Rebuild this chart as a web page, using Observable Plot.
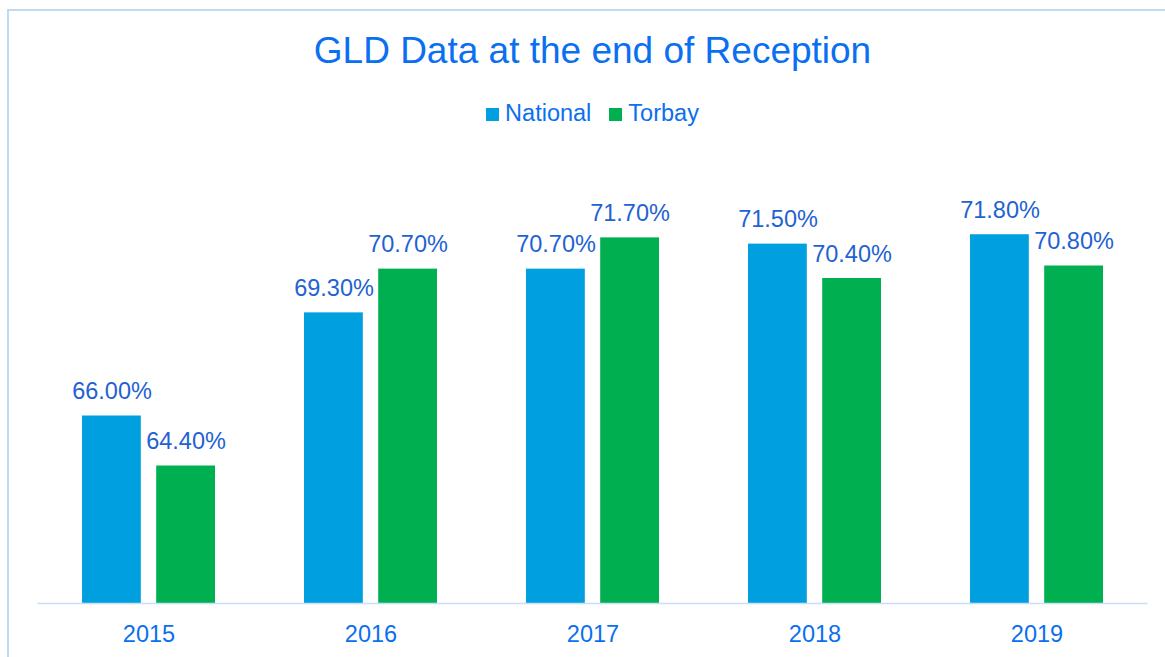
<!DOCTYPE html>
<html>
<head>
<meta charset="utf-8">
<script src="https://cdn.jsdelivr.net/npm/d3@7"></script>
<script src="https://cdn.jsdelivr.net/npm/@observablehq/plot@0.6"></script>
<style>
  html, body { margin: 0; padding: 0; background: #fff; overflow: hidden; }
  body { width: 1165px; height: 657px; position: relative; font-family: "Liberation Sans", Arial, sans-serif; }
  #frame { position: absolute; left: 7px; top: 9px; width: 1200px; height: 700px; border-left: 2px solid #c2d9f5; border-top: 2px solid #c2d9f5; }
  #title { position: absolute; left: 0; width: 1185px; top: 31.5px; text-align: center; font-size: 37px; line-height: 37px; color: #0a6ff0; white-space: nowrap; }
  #legend { position: absolute; left: 0; width: 1185px; top: 102px; text-align: center; font-size: 23.5px; line-height: 23px; color: #0a6ff0; white-space: nowrap; }
  .item { display: inline-block; margin: 0 9px; }
  .sw { display: inline-block; width: 13px; height: 13px; margin-right: 6px; vertical-align: 0px; }
  #chart { position: absolute; left: 0; top: 130px; }
</style>
</head>
<body>
<div id="frame"></div>
<div id="title">GLD Data at the end of Reception</div>
<div id="legend"></div>
<div id="chart"></div>
<script>
const years = ["2015", "2016", "2017", "2018", "2019"];
const seriesNames = ["National", "Torbay"];
const national = [66.0, 69.3, 70.7, 71.5, 71.8];
const torbay = [64.4, 70.7, 71.7, 70.4, 70.8];
const yDomain = [60, 74];
const seriesColors = ["#009fe0", "#00b050"];

const textColor = "#0a6ff0";
const labelColor = "#1f62d2";

// legend
const legend = document.getElementById("legend");
seriesNames.forEach((name, i) => {
  const it = document.createElement("span");
  it.className = "item";
  const sw = document.createElement("span");
  sw.className = "sw";
  sw.style.background = seriesColors[i];
  it.appendChild(sw);
  it.appendChild(document.createTextNode(name));
  legend.appendChild(it);
});

const natRows = years.map((year, i) => ({year, value: national[i]}));
const torRows = years.map((year, i) => ({year, value: torbay[i]}));
const fmt = d => d.value.toFixed(2) + "%";

const chart = Plot.plot({
  width: 1165,
  height: 527,
  marginLeft: 37.5,
  marginRight: 17.5,
  marginTop: 35.5,
  marginBottom: 54,
  style: { fontFamily: "Liberation Sans, Arial, sans-serif", background: "transparent" },
  x: { domain: years, paddingInner: 0.4, paddingOuter: 0.2, axis: null },
  y: { domain: yDomain, axis: null },
  marks: [
    Plot.barY(natRows, { x: "year", y1: yDomain[0], y2: "value", fill: seriesColors[0], insetRight: 74.2 }),
    Plot.barY(torRows, { x: "year", y1: yDomain[0], y2: "value", fill: seriesColors[1], insetLeft: 74.2 }),
    Plot.ruleY([yDomain[0]], { stroke: "#c9ddf6", strokeWidth: 1.5 }),
    Plot.text(natRows, { x: "year", y: "value", text: fmt, dx: -37, dy: -17, lineAnchor: "bottom", fontSize: 23.5, fill: labelColor }),
    Plot.text(torRows, { x: "year", y: "value", text: fmt, dx: 37, dy: -17, lineAnchor: "bottom", fontSize: 23.5, fill: labelColor }),
    Plot.axisX({ tickSize: 0, tickPadding: 22, fontSize: 23.5, fill: textColor, label: null })
  ]
});
document.getElementById("chart").appendChild(chart);
</script>
</body>
</html>
